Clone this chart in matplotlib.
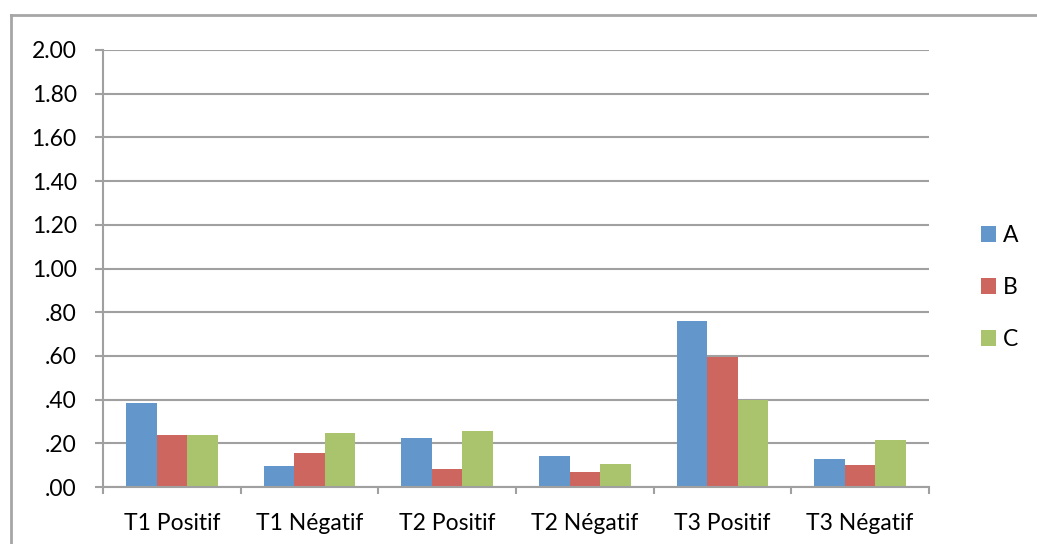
import matplotlib.pyplot as plt
import numpy as np
from matplotlib.lines import Line2D

categories = ["T1 Positif", "T1 Négatif", "T2 Positif", "T2 Négatif", "T3 Positif", "T3 Négatif"]
series = ["A", "B", "C"]
vals_a = [0.383, 0.096, 0.226, 0.143, 0.759, 0.129]
vals_b = [0.238, 0.154, 0.081, 0.069, 0.597, 0.099]
vals_c = [0.238, 0.246, 0.255, 0.107, 0.399, 0.215]
colors = ["#6397CB", "#CE6660", "#A9C46C"]
yticks = [0.0, 0.2, 0.4, 0.6, 0.8, 1.0, 1.2, 1.4, 1.6, 1.8, 2.0]

plt.rcParams['font.family'] = ['Lato', 'DejaVu Sans']
grid_col = "#A0A0A0"
fs = 16.5

fig = plt.figure(figsize=(10.37, 5.44), dpi=100)
ax = fig.add_axes([103 / 1037, 1 - 487 / 544, 826 / 1037, 437 / 544])

x = np.arange(len(categories))
w = 1 / 4.5  # gap width 150%
bars = []
for i, (vals, c) in enumerate(zip([vals_a, vals_b, vals_c], colors)):
    b = ax.bar(x + (i - 1) * w, vals, w, color=c, zorder=3, label=series[i])
    bars.append(b)

ax.set_xlim(-0.5, len(categories) - 0.5)
ax.set_ylim(0, 2.0)
ax.set_yticks(yticks)
ax.set_yticklabels([f"{v:.2f}".lstrip("0") if v < 1 else f"{v:.2f}" for v in yticks])
ax.yaxis.grid(True, color=grid_col, linewidth=1.5, zorder=0)
ax.set_xticks(x)
ax.set_xticklabels(categories)
ax.set_xticks(np.arange(len(categories) + 1) - 0.5, minor=True)
ax.tick_params(axis='x', which='major', length=0, pad=19, labelsize=fs, colors='black')
ax.tick_params(axis='x', which='minor', length=5, width=1.5, color=grid_col)
ax.tick_params(axis='y', length=6, width=1.5, color=grid_col, pad=13, labelsize=fs)

for s in ["top", "right"]:
    ax.spines[s].set_visible(False)
for s in ["left", "bottom"]:
    ax.spines[s].set_color(grid_col)
    ax.spines[s].set_linewidth(1.5)
    ax.spines[s].set_zorder(4)

leg = fig.legend(handles=bars, labels=series, loc="upper left",
                 bbox_to_anchor=(972 / 1037, 1 - 216 / 544), frameon=False,
                 fontsize=fs, handlelength=0.66, handleheight=0.66,
                 handletextpad=0.3, labelspacing=1.35, borderaxespad=0)

# outer chart border
fig.add_artist(Line2D([11 / 1037, 1], [1 - 15 / 544] * 2, transform=fig.transFigure,
                      color="#A6A6A6", linewidth=2))
fig.add_artist(Line2D([11 / 1037] * 2, [0, 1 - 15 / 544], transform=fig.transFigure,
                      color="#A6A6A6", linewidth=2))

fig.savefig("out.png", dpi=100)
